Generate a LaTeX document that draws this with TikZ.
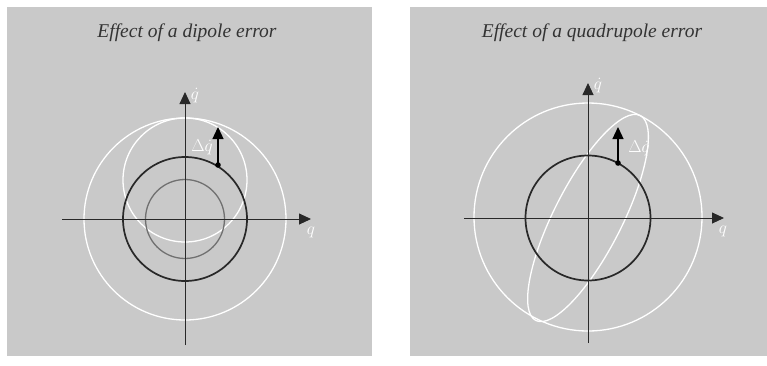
\documentclass[tikz,border=0pt]{standalone}
\usepackage{fontspec}
\setmainfont{Liberation Serif}
\usetikzlibrary{arrows.meta}
\definecolor{panelgray}{RGB}{201,201,201}
\definecolor{orbitdark}{RGB}{40,40,40}
\definecolor{orbitgray}{RGB}{112,112,112}

\begin{document}
\begin{tikzpicture}[x=1pt,y=-1pt,
  axis/.style={draw=orbitdark,line width=0.9pt,-{Triangle[length=12pt,width=11pt]}},
  kick/.style={draw=black,line width=1.3pt,-{Triangle[length=12pt,width=11pt]}},
  orbit/.style={draw=orbitdark,line width=1.7pt},
  whiteorbit/.style={draw=white,line width=1.3pt},
  lbl/.style={text=white,font=\fontsize{17}{20}\selectfont,inner sep=0pt},
  paneltitle/.style={font=\fontsize{19.5}{23}\selectfont\itshape,text=black!80}]
  \useasboundingbox (0,0) rectangle (767,365);
  \fill[panelgray] (7,7) rectangle (372,356);
  \fill[panelgray] (410,7) rectangle (767,356);

  % dipole error
  \node[paneltitle] (dtitle) at (187,33) {Effect of a dipole error};
  \coordinate (dO) at (185,219);
  \coordinate (dxL) at (62,219);
  \coordinate (dxR) at (311,219);
  \coordinate (dyB) at (185,345);
  \coordinate (dyT) at (185,92);
  \coordinate (dkick) at (218,165);
  \coordinate (dkickT) at (218,127);
  \draw[whiteorbit] (dO) circle[radius=101];
  \draw[whiteorbit] (185,180) circle[radius=62];
  \draw[orbit] (dO) circle[radius=62];
  \draw[draw=orbitgray,line width=1.3pt] (dO) circle[radius=39.5];
  \draw[axis] (dxL) -- (dxR);
  \draw[axis] (dyB) -- (dyT);
  \fill (dkick) circle[radius=2.8];
  \draw[kick] (dkick) -- (dkickT);
  \node[lbl] (dlabel) at (202,147) {$\Delta\dot q$};
  \node[lbl] (dqdot) at (195,96) {$\dot q$};
  \node[lbl] (dq) at (311,232) {$q$};

  % quadrupole error
  \node[paneltitle] (qtitle) at (592,33) {Effect of a quadrupole error};
  \coordinate (qO) at (588,218);
  \coordinate (qxL) at (464,218);
  \coordinate (qxR) at (724,218);
  \coordinate (qyB) at (588,343);
  \coordinate (qyT) at (588,83);
  \coordinate (qkick) at (618,163);
  \coordinate (qkickT) at (618,127);
  \draw[whiteorbit] (588,217) circle[radius=114];
  \draw[whiteorbit,rotate around={63:(qO)}] (qO) ellipse[x radius=115,y radius=34];
  \draw[orbit] (qO) circle[radius=62.5];
  \draw[axis] (qxL) -- (qxR);
  \draw[axis] (qyB) -- (qyT);
  \fill (qkick) circle[radius=2.8];
  \draw[kick] (qkick) -- (qkickT);
  \node[lbl] (qlabel) at (639,148) {$\Delta\dot q$};
  \node[lbl] (qqdot) at (598,86) {$\dot q$};
  \node[lbl] (qq) at (723,231) {$q$};
\end{tikzpicture}
\end{document}
